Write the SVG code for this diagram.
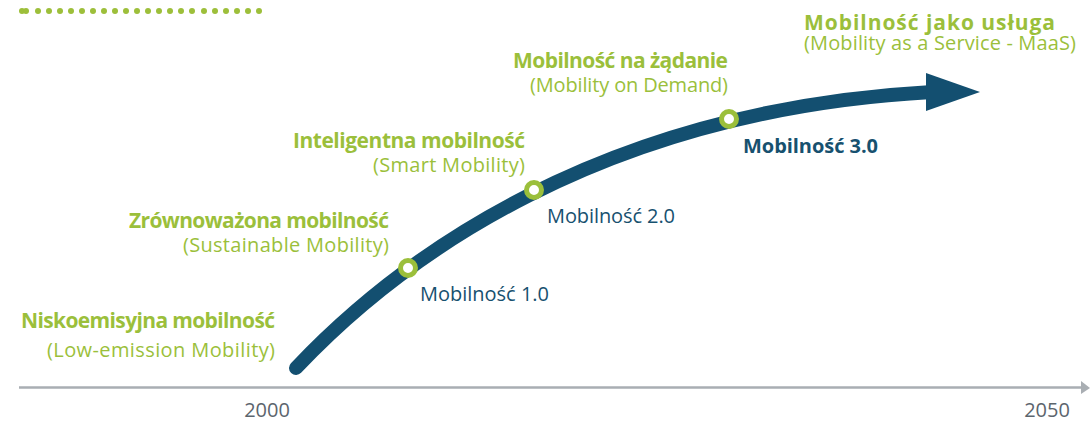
<svg xmlns="http://www.w3.org/2000/svg" width="1090" height="423" viewBox="0 0 1090 423">
  <style>
    .t { font-family: "Open Sans", "Liberation Sans", sans-serif; font-size: 20px; }
    .title { fill: #9bbf3b; font-weight: bold; font-size: 21px; }
    .sub { fill: #9bbf3b; }
    .blue { fill: #17516f; }
    .year { fill: #5c656d; }
    .dot { fill: #9dbf3a; }
    .node { fill: #ffffff; stroke: #9bbf3b; stroke-width: 5; }
  </style>
  <rect width="1090" height="423" fill="#ffffff"/>

  <g id="dots">
    <circle class="dot" cx="22" cy="11" r="3"/>
    <circle class="dot" cx="26" cy="11" r="3"/>
    <circle class="dot" cx="38" cy="11" r="3"/>
    <circle class="dot" cx="49" cy="11" r="3"/>
    <circle class="dot" cx="60" cy="11" r="3"/>
    <circle class="dot" cx="71" cy="11" r="3"/>
    <circle class="dot" cx="82" cy="11" r="3"/>
    <circle class="dot" cx="93" cy="11" r="3"/>
    <circle class="dot" cx="104" cy="11" r="3"/>
    <circle class="dot" cx="115" cy="11" r="3"/>
    <circle class="dot" cx="126" cy="11" r="3"/>
    <circle class="dot" cx="137" cy="11" r="3"/>
    <circle class="dot" cx="148" cy="11" r="3"/>
    <circle class="dot" cx="159" cy="11" r="3"/>
    <circle class="dot" cx="170" cy="11" r="3"/>
    <circle class="dot" cx="181" cy="11" r="3"/>
    <circle class="dot" cx="192" cy="11" r="3"/>
    <circle class="dot" cx="204" cy="11" r="3"/>
    <circle class="dot" cx="215" cy="11" r="3"/>
    <circle class="dot" cx="226" cy="11" r="3"/>
    <circle class="dot" cx="237" cy="11" r="3"/>
    <circle class="dot" cx="248" cy="11" r="3"/>
    <circle class="dot" cx="259" cy="11" r="3"/>
  </g>

  <g id="connectors">
    <line x1="19" y1="387.5" x2="1083" y2="387.5" stroke="#a9aeb3" stroke-width="2.5"/>
    <polygon points="1081,381 1090,388 1081,394" fill="#a9aeb3"/>
    <path d="M296,368 C400,258 600,110 932,92" fill="none" stroke="#134f70" stroke-width="14" stroke-linecap="round"/>
    <polygon points="926,73 980,92 926,111" fill="#134f70"/>
  </g>

  <g id="year-2000"><text class="t year" x="267" y="417" text-anchor="middle">2000</text></g>
  <g id="year-2050"><text class="t year" x="1047" y="417" text-anchor="middle">2050</text></g>

  <g id="node-low-emission">
    <text class="t title" x="275" y="328" text-anchor="end" textLength="254">Niskoemisyjna mobilność</text>
    <text class="t sub" x="275" y="357" text-anchor="end" textLength="228">(Low-emission Mobility)</text>
  </g>

  <g id="node-sustainable">
    <text class="t title" x="389" y="228" text-anchor="end" textLength="260">Zrównoważona mobilność</text>
    <text class="t sub" x="389" y="252" text-anchor="end" textLength="206">(Sustainable Mobility)</text>
    <circle class="node" cx="408" cy="268" r="7.5"/>
    <text class="t blue" x="420" y="301" textLength="129">Mobilność 1.0</text>
  </g>

  <g id="node-smart">
    <text class="t title" x="525" y="148" text-anchor="end" textLength="232">Inteligentna mobilność</text>
    <text class="t sub" x="525" y="172" text-anchor="end" textLength="152">(Smart Mobility)</text>
    <circle class="node" cx="534" cy="190" r="7.5"/>
    <text class="t blue" x="547" y="223" textLength="128">Mobilność 2.0</text>
  </g>

  <g id="node-demand">
    <text class="t title" x="728" y="68" text-anchor="end" textLength="215">Mobilność na żądanie</text>
    <text class="t sub" x="728" y="92" text-anchor="end" textLength="198">(Mobility on Demand)</text>
    <circle class="node" cx="729" cy="119" r="7.5"/>
    <text class="t blue" x="743" y="153" font-weight="bold" font-size="21" textLength="135">Mobilność 3.0</text>
  </g>

  <g id="node-maas">
    <text class="t title" x="804" y="30" textLength="251">Mobilność jako usługa</text>
    <text class="t sub" x="804" y="50" textLength="272">(Mobility as a Service - MaaS)</text>
  </g>
</svg>
